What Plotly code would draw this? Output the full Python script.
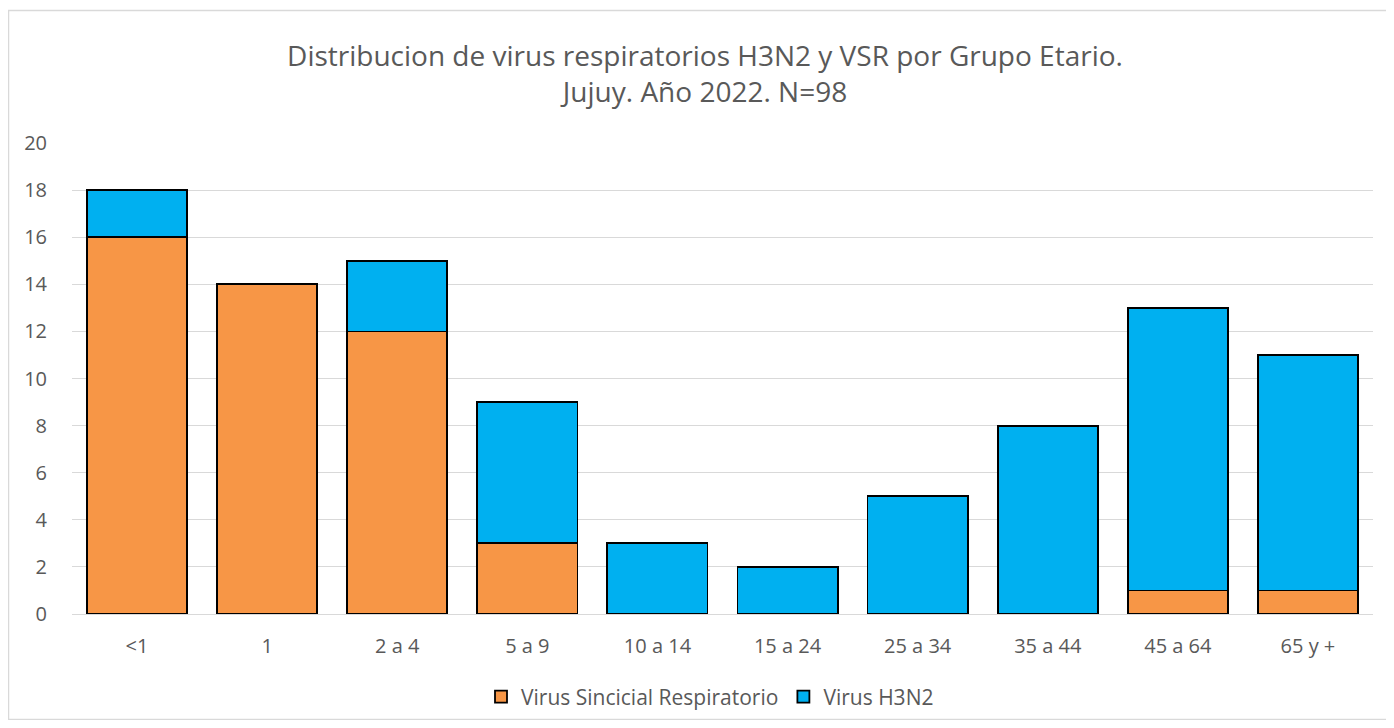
import plotly.graph_objects as go

categories = ["<1", "1", "2 a 4", "5 a 9", "10 a 14", "15 a 24", "25 a 34", "35 a 44", "45 a 64", "65 y +"]
vsr = [16, 14, 12, 3, 0, 0, 0, 0, 1, 1]
h3n2 = [2, 0, 3, 6, 3, 2, 5, 8, 12, 10]

OFF = 8  # page body margin
W, H = 1394 - 2 * OFF, 728 - 2 * OFF
L, R, T, B = 72 - OFF, W - (1373 - OFF), 143 - OFF, H - (614 - OFF)
pw, ph = W - L - R, H - T - B

def px(x):
    return (x - OFF - L) / pw

def py(y):
    return (H - B - (y - OFF)) / ph

font_fam = "Open Sans, Liberation Sans, sans-serif"
txt_col = "#595959"

fig = go.Figure()
fig.add_trace(go.Bar(name="Virus Sincicial Respiratorio", x=categories, y=vsr,
                     marker=dict(color="#F79646", line=dict(color="black", width=1.8))))
fig.add_trace(go.Bar(name="Virus H3N2", x=categories, y=h3n2,
                     marker=dict(color="#00B0F0", line=dict(color="black", width=1.8))))

fig.update_layout(
    barmode="stack",
    bargap=0.23,
    width=W, height=H,
    margin=dict(l=L, r=R, t=T, b=B, autoexpand=False),
    plot_bgcolor="white", paper_bgcolor="white",
    font=dict(family=font_fam, color=txt_col, size=20),
    title=dict(text="Distribucion de virus respiratorios H3N2 y VSR por Grupo Etario.<br>Jujuy. Año 2022. N=98",
               x=px(705), xref="paper", xanchor="center",
               y=1 - (66 - OFF) / H, yref="container", yanchor="middle",
               font=dict(size=28, color=txt_col, family=font_fam)),
    xaxis=dict(showgrid=False, showline=True, linecolor="#D9D9D9", linewidth=1, automargin=False,
               ticks="", tickfont=dict(size=20, color=txt_col), ticklabelstandoff=14),
    yaxis=dict(range=[0, 20], dtick=2, showgrid=True, gridcolor="#D9D9D9", gridwidth=1,
               zeroline=False, ticks="", tickfont=dict(size=20, color=txt_col), automargin=False,
               ticklabelstandoff=24),
    legend=dict(orientation="h", x=px(710), xanchor="center", y=py(697), yanchor="middle",
                bgcolor="rgba(0,0,0,0)",
                font=dict(size=21, color=txt_col), traceorder="normal"),
    shapes=[dict(type="rect", xref="paper", yref="paper",
                 x0=px(8.5), x1=px(1392), y0=py(719.5), y1=py(10.5),
                 line=dict(color="#D9D9D9", width=1.5), fillcolor="rgba(0,0,0,0)", layer="below")],
)

fig.write_html("out.html")
